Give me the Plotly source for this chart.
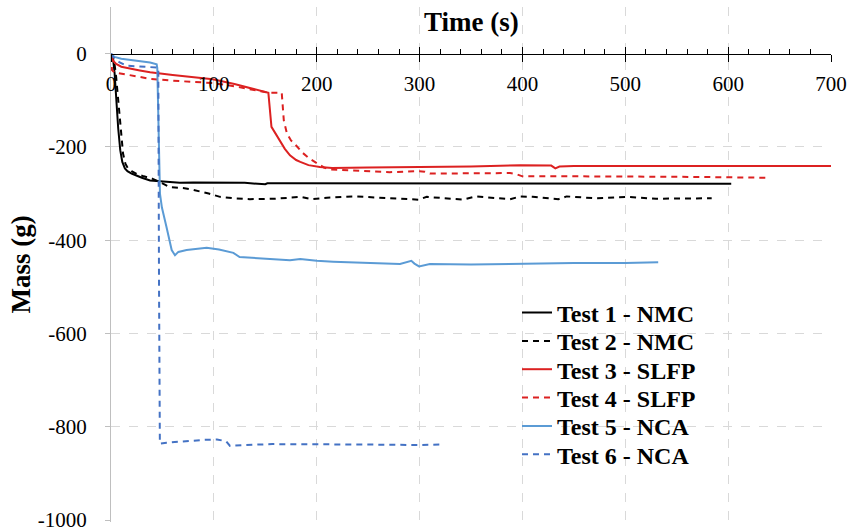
import plotly.graph_objects as go

# Mass-loss traces, time in seconds, mass change in grams
t1 = [0, 2, 3.5, 5, 7, 9, 11, 13.5, 16, 20, 25, 30, 38, 50, 67, 80, 100, 130, 150, 152, 170, 200, 250, 300, 400, 500, 603]
m1 = [0, -10, -42, -100, -160, -207, -232, -246, -252, -257, -262, -266, -272, -274, -277, -276, -276, -277, -280, -278, -278, -278, -278, -278, -278, -278, -279]

t2 = [0, 3, 5, 7, 9, 11.7, 14, 16.5, 20, 25, 32, 40, 50, 57, 70, 80, 95, 106, 120, 135, 160, 184, 195, 210, 237, 260, 299, 307, 342, 355, 388, 398, 410, 435, 443, 470, 501, 530, 560, 584]
m2 = [0, -15, -50, -100, -160, -214, -236, -246, -252, -258, -263, -268, -278, -286, -288, -292, -300, -307, -310, -312, -311, -307, -312, -309, -306, -309, -313, -307, -313, -306, -312, -306, -307, -312, -306, -310, -307, -311, -310, -310]

t3 = [0, 2, 5, 10, 28, 38, 60, 80, 99, 120, 140, 153, 156, 160, 164, 169, 174, 180, 184, 192, 203, 215, 250, 300, 350, 398, 428, 432, 436, 450, 500, 600, 700]
m3 = [0, -15, -22, -28, -36, -40, -46, -51, -55, -65, -76, -84, -157, -172, -186, -204, -218, -228, -232, -239, -243, -245, -244, -243, -242, -239, -240, -246, -242, -241, -241, -241, -241]

t4 = [0, 1, 3, 10, 18, 28, 38, 60, 80, 99, 120, 140, 154, 166, 168, 171, 175, 180, 186, 193, 200, 207, 213, 230, 250, 271, 300, 305, 310, 350, 388, 395, 400, 450, 500, 550, 600, 637]
m4 = [-5, -35, -40, -43, -46, -50, -54, -58, -61, -63, -70, -78, -84, -84, -143, -171, -186, -197, -212, -225, -234, -244, -248, -250, -251, -254, -252, -253, -257, -257, -256, -259, -263, -263, -263, -264, -265, -266]

t5 = [0, 3.4, 10, 20, 30, 38, 44.4, 45, 47.6, 49.5, 54, 59, 62.2, 65.5, 73.5, 85, 93, 105, 119, 125, 150, 174, 184, 200, 216, 250, 281, 292, 295, 299.5, 310, 350, 400, 450, 500, 532]
m5 = [0, -7, -11, -14, -17, -19, -23, -31, -300, -330, -372, -421, -432, -425, -421, -418, -416, -420, -427, -436, -439, -443, -440, -444, -446, -448, -451, -444, -450, -456, -451, -452, -450, -449, -449, -447]

t6 = [0, 2, 8, 15, 25, 35, 42.8, 46, 46.7, 47.5, 54, 70, 90, 103, 112, 115.7, 130, 157, 200, 250, 300, 321.5]
m6 = [0, -7, -18, -26, -27, -28, -29, -30, -500, -836, -834, -831, -828, -827, -831, -841, -839, -837, -837, -838, -839, -838]

names = ["Test 1 - NMC", "Test 2 - NMC", "Test 3 - SLFP", "Test 4 - SLFP", "Test 5 - NCA", "Test 6 - NCA"]
colors = ["#000000", "#000000", "#dc2121", "#dc2121", "#5b9bd5", "#4472c4"]
dashes = ["solid", "6px,5px", "solid", "6px,5px", "solid", "6px,5px"]
series = [(t1, m1), (t2, m2), (t3, m3), (t4, m4), (t5, m5), (t6, m6)]

y_ticks = [-1000, -800, -600, -400, -200, 0]
y_tick_text = ["-1000", "-800", "-600", "-400", "-200", "0"]
y_grid = [-800, -600, -400, -200]

SERIF = "Liberation Serif"

# each legend row gets its own legend so the row pitch can be set
legend_ids = ["legend", "legend2", "legend3", "legend4", "legend5", "legend6"]

fig = go.Figure()
for (t, m), name, c, d, lg in zip(series, names, colors, dashes, legend_ids):
    fig.add_trace(go.Scatter(x=t, y=m, mode="lines", name=name, legend=lg,
                             line=dict(color=c, width=2, dash=d)))

# helper trace so the lower half of the crossing major ticks is drawn
fig.add_trace(go.Scatter(x=[None], y=[None], xaxis="x2", showlegend=False, hoverinfo="skip"))

y_min, y_max = -1004, 100
x_pos = (0 - y_min) / (y_max - y_min)

W, H = 852, 532
plot_left, plot_right = 111, 831
plot_top, plot_bottom = 7, 522   # pixel rows of the plotting area


def px_x(p):
    return (p - plot_left) / (plot_right - plot_left)


def px_y(p):
    return (plot_bottom - p) / (plot_bottom - plot_top)


legend_rows = [313, 341.3, 369.6, 398, 426.3, 454.6]
legend_layout = {}
for lg, row in zip(legend_ids, legend_rows):
    legend_layout[lg] = dict(
        x=px_x(517), y=px_y(row), xanchor="left", yanchor="middle",
        bgcolor="rgba(0,0,0,0)", borderwidth=0,
        font=dict(family=SERIF, size=24, color="black", weight="bold"),
    )

fig.update_layout(
    width=W, height=H,
    margin=dict(l=plot_left, r=W - plot_right, t=plot_top, b=H - plot_bottom, autoexpand=False),
    paper_bgcolor="white", plot_bgcolor="white",
    font=dict(family=SERIF, color="black"),
    xaxis=dict(
        range=[0, 700], anchor="free", position=x_pos, side="bottom",
        tick0=0, dtick=100, ticks="inside", ticklen=7, tickwidth=1, tickcolor="black",
        showline=True, linecolor="black", linewidth=1,
        showgrid=True, gridcolor="#d9d9d9", griddash="dash", gridwidth=1,
        zeroline=False, ticklabelstandoff=11, automargin=False,
        tickfont=dict(family=SERIF, size=21, color="black"),
        minor=dict(dtick=20, tick0=0, ticks="inside", ticklen=5, tickcolor="black", showgrid=False),
    ),
    xaxis2=dict(
        matches="x", overlaying="x", anchor="free", position=x_pos, side="bottom",
        tick0=0, dtick=100, ticks="outside", ticklen=7, tickwidth=1, tickcolor="black",
        showticklabels=False, showline=False, showgrid=False, zeroline=False,
    ),
    yaxis=dict(
        range=[y_min, y_max], tickmode="array", tickvals=y_ticks, ticktext=y_tick_text,
        ticks="outside", ticklen=5, tickcolor="#bfbfbf",
        showline=True, linecolor="#bfbfbf", linewidth=1,
        showgrid=False, zeroline=False, ticklabelstandoff=14, automargin=False,
        ticklabeloverflow="allow",
        tickfont=dict(family=SERIF, size=21, color="black"),
        minor=dict(tickvals=y_grid, ticks="", showgrid=True, gridcolor="#d9d9d9", griddash="dash", gridwidth=1),
    ),
    showlegend=True,
    **legend_layout,
)

# white panel behind the legend rows, hiding the gridlines there
fig.add_shape(type="rect", xref="paper", yref="paper",
              x0=px_x(515), x1=px_x(735), y0=px_y(472), y1=px_y(300),
              fillcolor="white", line=dict(width=0), layer="between")

fig.add_annotation(text="<b>Time (s)</b>", xref="paper", yref="paper", x=0.5, y=px_y(22),
                   xanchor="center", yanchor="middle", showarrow=False,
                   font=dict(family=SERIF, size=27, color="black"))
fig.add_annotation(text="<b>Mass (g)</b>", xref="paper", yref="paper", x=px_x(20), y=0.5,
                   xanchor="center", yanchor="middle", textangle=-90, showarrow=False,
                   font=dict(family=SERIF, size=27, color="black"))

fig.write_html("out.html")
